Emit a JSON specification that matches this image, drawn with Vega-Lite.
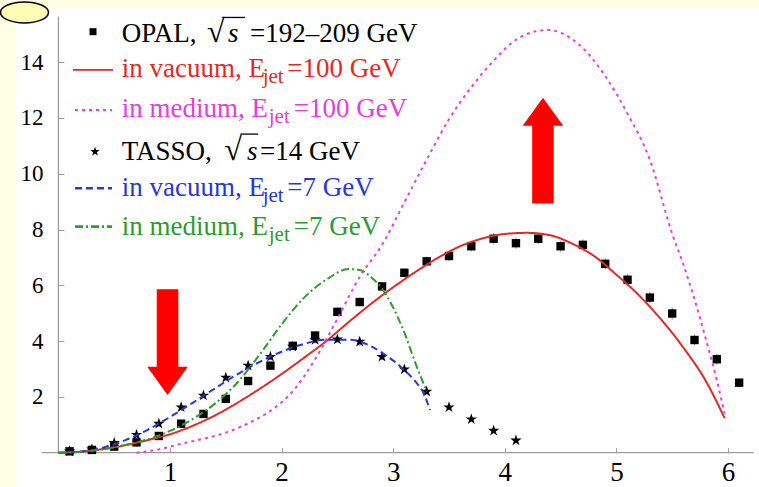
{
  "$schema": "https://vega.github.io/schema/vega-lite/v6.json",
  "width": 743,
  "height": 479,
  "autosize": {"type": "none"},
  "padding": {"left": 16, "top": 8, "right": 0, "bottom": 0},
  "background": "#FFFFE3",
  "config": {
    "view": {"fill": "white", "stroke": null},
    "font": "Liberation Serif",
    "axis": {"grid": false, "domain": false, "labelOverlap": false, "labelFlush": false, "labelBound": false, "tickColor": "#999999", "labelColor": "black", "labelFont": "Liberation Serif"}
  },
  "datasets": {
    "axislines": [
      {"axis": "x", "x": -0.15, "x2": 6.23, "y": 0, "y2": 0},
      {"axis": "y", "x": 0, "x2": 0, "y": 0, "y2": 15.63}
    ],
    "points": [
      {"series": "OPAL", "x": 0.1, "y": 0.05, "err": 0.02},
      {"series": "OPAL", "x": 0.3, "y": 0.1, "err": 0.02},
      {"series": "OPAL", "x": 0.5, "y": 0.22, "err": 0.03},
      {"series": "OPAL", "x": 0.7, "y": 0.37, "err": 0.04},
      {"series": "OPAL", "x": 0.9, "y": 0.6, "err": 0.05},
      {"series": "OPAL", "x": 1.1, "y": 1.04, "err": 0.06},
      {"series": "OPAL", "x": 1.3, "y": 1.39, "err": 0.08},
      {"series": "OPAL", "x": 1.5, "y": 1.93, "err": 0.1},
      {"series": "OPAL", "x": 1.7, "y": 2.57, "err": 0.1},
      {"series": "OPAL", "x": 1.9, "y": 3.12, "err": 0.12},
      {"series": "OPAL", "x": 2.1, "y": 3.83, "err": 0.12},
      {"series": "OPAL", "x": 2.3, "y": 4.2, "err": 0.14},
      {"series": "OPAL", "x": 2.5, "y": 5.05, "err": 0.15},
      {"series": "OPAL", "x": 2.7, "y": 5.4, "err": 0.15},
      {"series": "OPAL", "x": 2.9, "y": 5.96, "err": 0.16},
      {"series": "OPAL", "x": 3.1, "y": 6.45, "err": 0.16},
      {"series": "OPAL", "x": 3.3, "y": 6.86, "err": 0.17},
      {"series": "OPAL", "x": 3.5, "y": 7.05, "err": 0.18},
      {"series": "OPAL", "x": 3.7, "y": 7.4, "err": 0.18},
      {"series": "OPAL", "x": 3.9, "y": 7.67, "err": 0.2},
      {"series": "OPAL", "x": 4.1, "y": 7.51, "err": 0.2},
      {"series": "OPAL", "x": 4.3, "y": 7.67, "err": 0.2},
      {"series": "OPAL", "x": 4.5, "y": 7.4, "err": 0.2},
      {"series": "OPAL", "x": 4.7, "y": 7.45, "err": 0.2},
      {"series": "OPAL", "x": 4.9, "y": 6.77, "err": 0.2},
      {"series": "OPAL", "x": 5.1, "y": 6.2, "err": 0.2},
      {"series": "OPAL", "x": 5.3, "y": 5.56, "err": 0.2},
      {"series": "OPAL", "x": 5.5, "y": 4.99, "err": 0.22},
      {"series": "OPAL", "x": 5.7, "y": 4.04, "err": 0.2},
      {"series": "OPAL", "x": 5.9, "y": 3.35, "err": 0.2},
      {"series": "OPAL", "x": 6.1, "y": 2.51, "err": 0.15},
      {"series": "TASSO", "x": 0.1, "y": 0.05, "err": 0.02},
      {"series": "TASSO", "x": 0.3, "y": 0.12, "err": 0.02},
      {"series": "TASSO", "x": 0.5, "y": 0.35, "err": 0.04},
      {"series": "TASSO", "x": 0.7, "y": 0.64, "err": 0.05},
      {"series": "TASSO", "x": 0.9, "y": 1.04, "err": 0.06},
      {"series": "TASSO", "x": 1.1, "y": 1.63, "err": 0.08},
      {"series": "TASSO", "x": 1.3, "y": 2.05, "err": 0.08},
      {"series": "TASSO", "x": 1.5, "y": 2.69, "err": 0.1},
      {"series": "TASSO", "x": 1.7, "y": 3.12, "err": 0.1},
      {"series": "TASSO", "x": 1.9, "y": 3.44, "err": 0.12},
      {"series": "TASSO", "x": 2.1, "y": 3.8, "err": 0.12},
      {"series": "TASSO", "x": 2.3, "y": 4.04, "err": 0.12},
      {"series": "TASSO", "x": 2.5, "y": 4.06, "err": 0.12},
      {"series": "TASSO", "x": 2.7, "y": 3.98, "err": 0.15},
      {"series": "TASSO", "x": 2.9, "y": 3.44, "err": 0.12},
      {"series": "TASSO", "x": 3.1, "y": 2.99, "err": 0.1},
      {"series": "TASSO", "x": 3.3, "y": 2.19, "err": 0.1},
      {"series": "TASSO", "x": 3.5, "y": 1.63, "err": 0.08},
      {"series": "TASSO", "x": 3.7, "y": 1.2, "err": 0.06},
      {"series": "TASSO", "x": 3.9, "y": 0.79, "err": 0.05},
      {"series": "TASSO", "x": 4.1, "y": 0.44, "err": 0.04}
    ],
    "curves": [
      {"series": "vacuum 100 GeV", "x": 0.0, "y": 0.0},
      {"series": "vacuum 100 GeV", "x": 0.2, "y": 0.04},
      {"series": "vacuum 100 GeV", "x": 0.4, "y": 0.13},
      {"series": "vacuum 100 GeV", "x": 0.6, "y": 0.27},
      {"series": "vacuum 100 GeV", "x": 0.8, "y": 0.45},
      {"series": "vacuum 100 GeV", "x": 1.0, "y": 0.66},
      {"series": "vacuum 100 GeV", "x": 1.2, "y": 0.96},
      {"series": "vacuum 100 GeV", "x": 1.4, "y": 1.33},
      {"series": "vacuum 100 GeV", "x": 1.6, "y": 1.78},
      {"series": "vacuum 100 GeV", "x": 1.8, "y": 2.28},
      {"series": "vacuum 100 GeV", "x": 2.0, "y": 2.82},
      {"series": "vacuum 100 GeV", "x": 2.2, "y": 3.4},
      {"series": "vacuum 100 GeV", "x": 2.4, "y": 4.0},
      {"series": "vacuum 100 GeV", "x": 2.6, "y": 4.68},
      {"series": "vacuum 100 GeV", "x": 2.8, "y": 5.33},
      {"series": "vacuum 100 GeV", "x": 3.0, "y": 5.93},
      {"series": "vacuum 100 GeV", "x": 3.2, "y": 6.48},
      {"series": "vacuum 100 GeV", "x": 3.4, "y": 6.98},
      {"series": "vacuum 100 GeV", "x": 3.6, "y": 7.4},
      {"series": "vacuum 100 GeV", "x": 3.8, "y": 7.68},
      {"series": "vacuum 100 GeV", "x": 4.0, "y": 7.84},
      {"series": "vacuum 100 GeV", "x": 4.2, "y": 7.88},
      {"series": "vacuum 100 GeV", "x": 4.4, "y": 7.8},
      {"series": "vacuum 100 GeV", "x": 4.6, "y": 7.5},
      {"series": "vacuum 100 GeV", "x": 4.8, "y": 7.05},
      {"series": "vacuum 100 GeV", "x": 5.0, "y": 6.38},
      {"series": "vacuum 100 GeV", "x": 5.2, "y": 5.65},
      {"series": "vacuum 100 GeV", "x": 5.4, "y": 4.78},
      {"series": "vacuum 100 GeV", "x": 5.6, "y": 3.77},
      {"series": "vacuum 100 GeV", "x": 5.8, "y": 2.58},
      {"series": "vacuum 100 GeV", "x": 5.97, "y": 1.24},
      {"series": "medium 100 GeV", "x": 0.7, "y": 0.0},
      {"series": "medium 100 GeV", "x": 0.9, "y": 0.12},
      {"series": "medium 100 GeV", "x": 1.1, "y": 0.32},
      {"series": "medium 100 GeV", "x": 1.3, "y": 0.5},
      {"series": "medium 100 GeV", "x": 1.5, "y": 0.72},
      {"series": "medium 100 GeV", "x": 1.7, "y": 1.05},
      {"series": "medium 100 GeV", "x": 1.9, "y": 1.5},
      {"series": "medium 100 GeV", "x": 2.1, "y": 2.2},
      {"series": "medium 100 GeV", "x": 2.3, "y": 3.35},
      {"series": "medium 100 GeV", "x": 2.5, "y": 4.8},
      {"series": "medium 100 GeV", "x": 2.7, "y": 6.3},
      {"series": "medium 100 GeV", "x": 2.9, "y": 7.45},
      {"series": "medium 100 GeV", "x": 3.1, "y": 8.97},
      {"series": "medium 100 GeV", "x": 3.3, "y": 10.5},
      {"series": "medium 100 GeV", "x": 3.5, "y": 11.95},
      {"series": "medium 100 GeV", "x": 3.7, "y": 13.1},
      {"series": "medium 100 GeV", "x": 3.9, "y": 14.05},
      {"series": "medium 100 GeV", "x": 4.1, "y": 14.8},
      {"series": "medium 100 GeV", "x": 4.3, "y": 15.12},
      {"series": "medium 100 GeV", "x": 4.4, "y": 15.15},
      {"series": "medium 100 GeV", "x": 4.5, "y": 15.05},
      {"series": "medium 100 GeV", "x": 4.7, "y": 14.5},
      {"series": "medium 100 GeV", "x": 4.9, "y": 13.5},
      {"series": "medium 100 GeV", "x": 5.1, "y": 12.15},
      {"series": "medium 100 GeV", "x": 5.3, "y": 10.5},
      {"series": "medium 100 GeV", "x": 5.5, "y": 7.85},
      {"series": "medium 100 GeV", "x": 5.6, "y": 6.75},
      {"series": "medium 100 GeV", "x": 5.7, "y": 5.5},
      {"series": "medium 100 GeV", "x": 5.8, "y": 4.1},
      {"series": "medium 100 GeV", "x": 5.9, "y": 2.6},
      {"series": "medium 100 GeV", "x": 5.97, "y": 1.4},
      {"series": "vacuum 7 GeV", "x": 0.0, "y": 0.0},
      {"series": "vacuum 7 GeV", "x": 0.2, "y": 0.04},
      {"series": "vacuum 7 GeV", "x": 0.4, "y": 0.18},
      {"series": "vacuum 7 GeV", "x": 0.6, "y": 0.45},
      {"series": "vacuum 7 GeV", "x": 0.8, "y": 0.82},
      {"series": "vacuum 7 GeV", "x": 1.0, "y": 1.28},
      {"series": "vacuum 7 GeV", "x": 1.2, "y": 1.78},
      {"series": "vacuum 7 GeV", "x": 1.4, "y": 2.3},
      {"series": "vacuum 7 GeV", "x": 1.6, "y": 2.8},
      {"series": "vacuum 7 GeV", "x": 1.8, "y": 3.25},
      {"series": "vacuum 7 GeV", "x": 2.0, "y": 3.62},
      {"series": "vacuum 7 GeV", "x": 2.2, "y": 3.9},
      {"series": "vacuum 7 GeV", "x": 2.4, "y": 4.05},
      {"series": "vacuum 7 GeV", "x": 2.6, "y": 4.05},
      {"series": "vacuum 7 GeV", "x": 2.8, "y": 3.82},
      {"series": "vacuum 7 GeV", "x": 2.9, "y": 3.58},
      {"series": "vacuum 7 GeV", "x": 3.0, "y": 3.3},
      {"series": "vacuum 7 GeV", "x": 3.1, "y": 2.96},
      {"series": "vacuum 7 GeV", "x": 3.2, "y": 2.55},
      {"series": "vacuum 7 GeV", "x": 3.27, "y": 2.15},
      {"series": "vacuum 7 GeV", "x": 3.33, "y": 1.53},
      {"series": "medium 7 GeV", "x": 0.0, "y": 0.0},
      {"series": "medium 7 GeV", "x": 0.2, "y": 0.03},
      {"series": "medium 7 GeV", "x": 0.4, "y": 0.12},
      {"series": "medium 7 GeV", "x": 0.6, "y": 0.28},
      {"series": "medium 7 GeV", "x": 0.8, "y": 0.48},
      {"series": "medium 7 GeV", "x": 1.0, "y": 0.78},
      {"series": "medium 7 GeV", "x": 1.2, "y": 1.2},
      {"series": "medium 7 GeV", "x": 1.4, "y": 1.75},
      {"series": "medium 7 GeV", "x": 1.6, "y": 2.5},
      {"series": "medium 7 GeV", "x": 1.8, "y": 3.5},
      {"series": "medium 7 GeV", "x": 2.0, "y": 4.6},
      {"series": "medium 7 GeV", "x": 2.2, "y": 5.55},
      {"series": "medium 7 GeV", "x": 2.4, "y": 6.2},
      {"series": "medium 7 GeV", "x": 2.6, "y": 6.58},
      {"series": "medium 7 GeV", "x": 2.7, "y": 6.55},
      {"series": "medium 7 GeV", "x": 2.8, "y": 6.3},
      {"series": "medium 7 GeV", "x": 2.9, "y": 5.88},
      {"series": "medium 7 GeV", "x": 3.0, "y": 5.2},
      {"series": "medium 7 GeV", "x": 3.1, "y": 4.3},
      {"series": "medium 7 GeV", "x": 3.2, "y": 3.2},
      {"series": "medium 7 GeV", "x": 3.3, "y": 2.2}
    ],
    "legend": [
      {"part": "symbol", "series": "OPAL", "x": 0.31, "y": 15.09},
      {"part": "symbol", "series": "TASSO", "x": 0.328, "y": 10.79},
      {"part": "line", "series": "vacuum 100 GeV", "x": 0.131, "x2": 0.489, "y": 13.72},
      {"part": "line", "series": "medium 100 GeV", "x": 0.149, "x2": 0.48, "y": 12.28},
      {"part": "line", "series": "vacuum 7 GeV", "x": 0.149, "x2": 0.48, "y": 9.48},
      {"part": "line", "series": "medium 7 GeV", "x": 0.149, "x2": 0.48, "y": 8.1},
      {"part": "bar", "series": "OPAL", "x": 1.466, "x2": 1.672, "y": 15.6},
      {"part": "bar", "series": "TASSO", "x": 1.63, "x2": 1.79, "y": 11.42},
      {"part": "main", "series": "OPAL", "text": "OPAL,", "x": 0.567, "y": 14.73},
      {"part": "root", "series": "OPAL", "text": "√", "x": 1.331, "y": 14.73},
      {"part": "italic", "series": "OPAL", "text": "s", "x": 1.52, "y": 14.73},
      {"part": "main", "series": "OPAL", "text": "=192–209 GeV", "x": 1.717, "y": 14.73},
      {"part": "main", "series": "vacuum 100 GeV", "text": "in vacuum, E", "x": 0.567, "y": 13.47},
      {"part": "sub", "series": "vacuum 100 GeV", "text": "jet", "x": 1.83, "y": 13.25},
      {"part": "main", "series": "vacuum 100 GeV", "text": "=100 GeV", "x": 2.05, "y": 13.47},
      {"part": "main", "series": "medium 100 GeV", "text": "in medium, E", "x": 0.567, "y": 12.03},
      {"part": "sub", "series": "medium 100 GeV", "text": "jet", "x": 1.885, "y": 11.82},
      {"part": "main", "series": "medium 100 GeV", "text": "=100 GeV", "x": 2.11, "y": 12.03},
      {"part": "main", "series": "TASSO", "text": "TASSO,", "x": 0.567, "y": 10.49},
      {"part": "root", "series": "TASSO", "text": "√", "x": 1.486, "y": 10.49},
      {"part": "italic", "series": "TASSO", "text": "s", "x": 1.69, "y": 10.49},
      {"part": "main", "series": "TASSO", "text": "=14 GeV", "x": 1.806, "y": 10.49},
      {"part": "main", "series": "vacuum 7 GeV", "text": "in vacuum, E", "x": 0.567, "y": 9.2},
      {"part": "sub", "series": "vacuum 7 GeV", "text": "jet", "x": 1.83, "y": 8.99},
      {"part": "main", "series": "vacuum 7 GeV", "text": "=7 GeV", "x": 2.05, "y": 9.2},
      {"part": "main", "series": "medium 7 GeV", "text": "in medium, E", "x": 0.567, "y": 7.8},
      {"part": "sub", "series": "medium 7 GeV", "text": "jet", "x": 1.885, "y": 7.59},
      {"part": "main", "series": "medium 7 GeV", "text": "=7 GeV", "x": 2.11, "y": 7.8}
    ],
    "annot": [
      {"kind": "down", "x": 0.978, "y": 3.96},
      {"kind": "up", "x": 4.342, "y": 10.83},
      {"kind": "ellipse", "x": -0.304, "y": 15.78}
    ]
  },
  "layer": [
    {
      "data": {"name": "axislines"},
      "mark": {"type": "rule", "color": "#9a9a9a", "strokeWidth": 1.2},
      "encoding": {
        "x": {
          "field": "x", "type": "quantitative",
          "scale": {"domain": [-0.38, 6.278], "nice": false, "zero": false},
          "axis": {
            "title": null, "domain": false, "grid": false, "offset": -34.3, "zindex": 1,
            "values": [1, 2, 3, 4, 5, 6], "format": "d",
            "tickSize": -5, "tickColor": "#999999", "tickWidth": 1,
            "labelFont": "Liberation Serif", "labelFontSize": 27, "labelColor": "black",
            "labelPadding": 12, "labelFlush": false, "labelOverlap": false
          }
        },
        "x2": {"field": "x2"},
        "y": {
          "field": "y", "type": "quantitative",
          "scale": {"domain": [-1.229, 15.939], "nice": false, "zero": false},
          "axis": {
            "title": null, "domain": false, "grid": false, "offset": -42.4, "zindex": 1,
            "values": [2, 4, 6, 8, 10, 12, 14], "format": "d",
            "tickSize": -5.5, "tickColor": "#999999", "tickWidth": 1,
            "labelFont": "Liberation Serif", "labelFontSize": 23, "labelColor": "black",
            "labelPadding": 21, "labelFlush": false, "labelOverlap": false
          }
        },
        "y2": {"field": "y2"}
      }
    },
    {
      "data": {"name": "points"},
      "mark": {"type": "errorbar", "color": "#8a8a8a", "thickness": 1},
      "encoding": {
        "x": {"field": "x", "type": "quantitative", "scale": {"domain": [-0.38, 6.278], "nice": false, "zero": false}},
        "y": {"field": "y", "type": "quantitative", "scale": {"domain": [-1.229, 15.939], "nice": false, "zero": false}},
        "yError": {"field": "err"}
      }
    },
    {
      "data": {"name": "points"},
      "mark": {"type": "point", "filled": true, "opacity": 1, "size": 144, "color": "black"},
      "encoding": {
        "x": {"field": "x", "type": "quantitative", "scale": {"domain": [-0.38, 6.278], "nice": false, "zero": false}},
        "y": {"field": "y", "type": "quantitative", "scale": {"domain": [-1.229, 15.939], "nice": false, "zero": false}},
        "shape": {
          "field": "series", "type": "nominal", "legend": null,
          "scale": {"domain": ["OPAL", "TASSO"], "range": ["M-0.7,-0.7L0.7,-0.7L0.7,0.7L-0.7,0.7Z", "M0,-1L0.225,-0.309L0.951,-0.309L0.363,0.118L0.588,0.809L0,0.382L-0.588,0.809L-0.363,0.118L-0.951,-0.309L-0.225,-0.309Z"]}
        }
      }
    },
    {
      "data": {"name": "curves"},
      "mark": {"type": "line", "interpolate": "monotone", "strokeWidth": 2},
      "encoding": {
        "x": {"field": "x", "type": "quantitative", "scale": {"domain": [-0.38, 6.278], "nice": false, "zero": false}},
        "y": {"field": "y", "type": "quantitative", "scale": {"domain": [-1.229, 15.939], "nice": false, "zero": false}},
        "color": {
          "field": "series", "type": "nominal", "legend": null,
          "scale": {"domain": ["OPAL", "vacuum 100 GeV", "medium 100 GeV", "TASSO", "vacuum 7 GeV", "medium 7 GeV"], "range": ["#000000", "#E02A2A", "#E040E0", "#000000", "#2838D0", "#2E9A2E"]}
        },
        "strokeDash": {
          "field": "series", "type": "nominal", "legend": null,
          "scale": {"domain": ["vacuum 100 GeV", "medium 100 GeV", "vacuum 7 GeV", "medium 7 GeV"], "range": [[1, 0], [3, 4], [7, 4], [8, 3, 2, 3]]}
        },
        "strokeWidth": {
          "field": "series", "type": "nominal", "legend": null,
          "scale": {"domain": ["vacuum 100 GeV", "medium 100 GeV", "vacuum 7 GeV", "medium 7 GeV"], "range": [1.8, 2.8, 2, 2]}
        }
      }
    },
    {
      "data": {"name": "legend"},
      "transform": [{"filter": "datum.part === 'line'"}],
      "mark": {"type": "rule"},
      "encoding": {
        "x": {"field": "x", "type": "quantitative", "scale": {"domain": [-0.38, 6.278], "nice": false, "zero": false}},
        "x2": {"field": "x2"},
        "y": {"field": "y", "type": "quantitative", "scale": {"domain": [-1.229, 15.939], "nice": false, "zero": false}},
        "color": {
          "field": "series", "type": "nominal", "legend": null,
          "scale": {"domain": ["OPAL", "vacuum 100 GeV", "medium 100 GeV", "TASSO", "vacuum 7 GeV", "medium 7 GeV"], "range": ["#000000", "#E02A2A", "#E040E0", "#000000", "#2838D0", "#2E9A2E"]}
        },
        "strokeDash": {
          "field": "series", "type": "nominal", "legend": null,
          "scale": {"domain": ["vacuum 100 GeV", "medium 100 GeV", "vacuum 7 GeV", "medium 7 GeV"], "range": [[1, 0], [3, 4], [7, 4], [8, 3, 2, 3]]}
        },
        "strokeWidth": {
          "field": "series", "type": "nominal", "legend": null,
          "scale": {"domain": ["vacuum 100 GeV", "medium 100 GeV", "vacuum 7 GeV", "medium 7 GeV"], "range": [1.8, 2.8, 2, 2]}
        }
      }
    },
    {
      "data": {"name": "legend"},
      "transform": [{"filter": "datum.part === 'bar'"}],
      "mark": {"type": "rule", "color": "black", "strokeWidth": 1.3},
      "encoding": {
        "x": {"field": "x", "type": "quantitative", "scale": {"domain": [-0.38, 6.278], "nice": false, "zero": false}},
        "x2": {"field": "x2"},
        "y": {"field": "y", "type": "quantitative", "scale": {"domain": [-1.229, 15.939], "nice": false, "zero": false}}
      }
    },
    {
      "data": {"name": "legend"},
      "transform": [{"filter": "datum.part === 'symbol'"}],
      "mark": {"type": "point", "filled": true, "opacity": 1, "size": 100, "color": "black"},
      "encoding": {
        "x": {"field": "x", "type": "quantitative", "scale": {"domain": [-0.38, 6.278], "nice": false, "zero": false}},
        "y": {"field": "y", "type": "quantitative", "scale": {"domain": [-1.229, 15.939], "nice": false, "zero": false}},
        "shape": {
          "field": "series", "type": "nominal", "legend": null,
          "scale": {"domain": ["OPAL", "TASSO"], "range": ["M-0.7,-0.7L0.7,-0.7L0.7,0.7L-0.7,0.7Z", "M0,-1L0.225,-0.309L0.951,-0.309L0.363,0.118L0.588,0.809L0,0.382L-0.588,0.809L-0.363,0.118L-0.951,-0.309L-0.225,-0.309Z"]}
        }
      }
    },
    {
      "data": {"name": "legend"},
      "transform": [{"filter": "datum.part === 'main'"}],
      "mark": {"type": "text", "align": "left", "baseline": "alphabetic", "font": "Liberation Serif", "fontSize": 27},
      "encoding": {
        "x": {"field": "x", "type": "quantitative", "scale": {"domain": [-0.38, 6.278], "nice": false, "zero": false}},
        "y": {"field": "y", "type": "quantitative", "scale": {"domain": [-1.229, 15.939], "nice": false, "zero": false}},
        "text": {"field": "text"},
        "color": {
          "field": "series", "type": "nominal", "legend": null,
          "scale": {"domain": ["OPAL", "vacuum 100 GeV", "medium 100 GeV", "TASSO", "vacuum 7 GeV", "medium 7 GeV"], "range": ["#000000", "#E02A2A", "#E040E0", "#000000", "#2838D0", "#2E9A2E"]}
        }
      }
    },
    {
      "data": {"name": "legend"},
      "transform": [{"filter": "datum.part === 'sub'"}],
      "mark": {"type": "text", "align": "left", "baseline": "alphabetic", "font": "Liberation Serif", "fontSize": 21},
      "encoding": {
        "x": {"field": "x", "type": "quantitative", "scale": {"domain": [-0.38, 6.278], "nice": false, "zero": false}},
        "y": {"field": "y", "type": "quantitative", "scale": {"domain": [-1.229, 15.939], "nice": false, "zero": false}},
        "text": {"field": "text"},
        "color": {
          "field": "series", "type": "nominal", "legend": null,
          "scale": {"domain": ["OPAL", "vacuum 100 GeV", "medium 100 GeV", "TASSO", "vacuum 7 GeV", "medium 7 GeV"], "range": ["#000000", "#E02A2A", "#E040E0", "#000000", "#2838D0", "#2E9A2E"]}
        }
      }
    },
    {
      "data": {"name": "legend"},
      "transform": [{"filter": "datum.part === 'root'"}],
      "mark": {"type": "text", "align": "left", "baseline": "alphabetic", "font": "Liberation Serif", "fontSize": 32, "color": "black"},
      "encoding": {
        "x": {"field": "x", "type": "quantitative", "scale": {"domain": [-0.38, 6.278], "nice": false, "zero": false}},
        "y": {"field": "y", "type": "quantitative", "scale": {"domain": [-1.229, 15.939], "nice": false, "zero": false}},
        "text": {"field": "text"}
      }
    },
    {
      "data": {"name": "legend"},
      "transform": [{"filter": "datum.part === 'italic'"}],
      "mark": {"type": "text", "align": "left", "baseline": "alphabetic", "font": "Liberation Serif", "fontSize": 27, "fontStyle": "italic", "color": "black"},
      "encoding": {
        "x": {"field": "x", "type": "quantitative", "scale": {"domain": [-0.38, 6.278], "nice": false, "zero": false}},
        "y": {"field": "y", "type": "quantitative", "scale": {"domain": [-1.229, 15.939], "nice": false, "zero": false}},
        "text": {"field": "text"}
      }
    },
    {
      "data": {"name": "annot"},
      "transform": [{"filter": "datum.kind === 'down'"}],
      "mark": {"type": "point", "shape": "M-0.204,-1L0.204,-1L0.204,0.465L0.384,0.465L0,1L-0.384,0.465L-0.204,0.465Z", "filled": true, "opacity": 1, "size": 11172, "color": "#FF0000", "strokeWidth": 0},
      "encoding": {
        "x": {"field": "x", "type": "quantitative", "scale": {"domain": [-0.38, 6.278], "nice": false, "zero": false}},
        "y": {"field": "y", "type": "quantitative", "scale": {"domain": [-1.229, 15.939], "nice": false, "zero": false}}
      }
    },
    {
      "data": {"name": "annot"},
      "transform": [{"filter": "datum.kind === 'up'"}],
      "mark": {"type": "point", "shape": "M-0.204,1L0.204,1L0.204,-0.47L0.384,-0.47L0,-1L-0.384,-0.47L-0.204,-0.47Z", "filled": true, "opacity": 1, "size": 11172, "color": "#FF0000", "strokeWidth": 0},
      "encoding": {
        "x": {"field": "x", "type": "quantitative", "scale": {"domain": [-0.38, 6.278], "nice": false, "zero": false}},
        "y": {"field": "y", "type": "quantitative", "scale": {"domain": [-1.229, 15.939], "nice": false, "zero": false}}
      }
    },
    {
      "data": {"name": "annot"},
      "transform": [{"filter": "datum.kind === 'ellipse'"}],
      "mark": {"type": "point", "shape": "M-1,0C-1,-0.2416 -0.5523,-0.4375 0,-0.4375C0.5523,-0.4375 1,-0.2416 1,0C1,0.2416 0.5523,0.4375 0,0.4375C-0.5523,0.4375 -1,0.2416 -1,0Z", "size": 2304, "filled": true, "fill": "#FFFDB5", "stroke": "black", "strokeWidth": 1.5, "opacity": 1},
      "encoding": {
        "x": {"field": "x", "type": "quantitative", "scale": {"domain": [-0.38, 6.278], "nice": false, "zero": false}},
        "y": {"field": "y", "type": "quantitative", "scale": {"domain": [-1.229, 15.939], "nice": false, "zero": false}}
      }
    }
  ]
}
